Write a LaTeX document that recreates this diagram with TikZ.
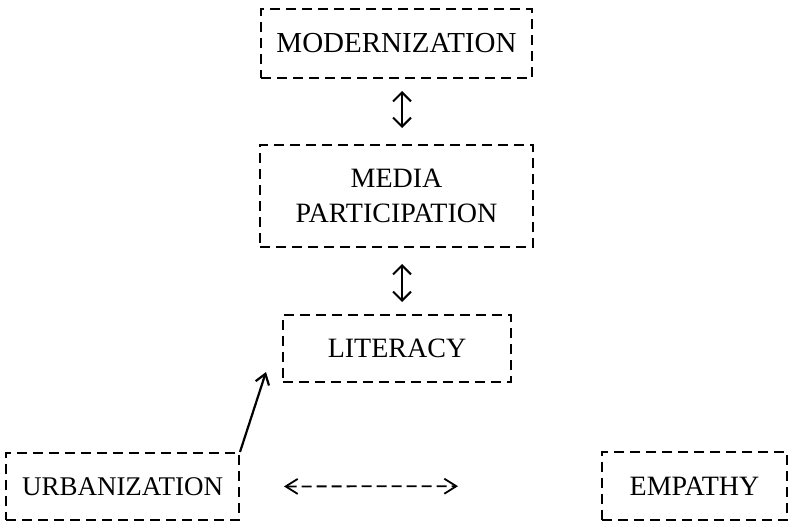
\documentclass[tikz,border=0pt]{standalone}
\usepackage{fontspec}
\setmainfont{Liberation Serif}
\usetikzlibrary{arrows.meta}
\begin{document}
\begin{tikzpicture}[x=1pt,y=-1pt,
  concept/.style={draw, dashed, dash pattern=on 10pt off 6pt, line width=2pt,
    inner sep=0pt, align=center, font=\fontsize{28}{35}\selectfont},
  link/.style={line width=2pt, {Straight Barb[length=9pt,width=18pt]}-{Straight Barb[length=9pt,width=18pt]}},
  cause/.style={line width=2.2pt, -{Straight Barb[length=10pt,width=14pt]}},
  assoc/.style={line width=1.8pt, dash pattern=on 10pt off 5pt,
    {Straight Barb[length=12pt,width=15pt]}-{Straight Barb[length=12pt,width=15pt]}}]
  \useasboundingbox (0,0) rectangle (788,522);

  % variables of the model
  \node[concept, font=\fontsize{29}{35}\selectfont, minimum width=271pt, minimum height=69pt] (mod) at (396.5,43.5) {MODERNIZATION};
  \node[concept, minimum width=273pt, minimum height=102pt] (media) at (396.5,196) {MEDIA\\PARTICIPATION};
  \node[concept, minimum width=228pt, minimum height=67pt] (lit) at (397,348.5) {LITERACY};
  \node[concept, font=\fontsize{27}{35}\selectfont, minimum width=233pt, minimum height=67pt] (urb) at (122.5,486.5) {URBANIZATION};
  \node[concept, minimum width=185pt, minimum height=68pt] (emp) at (694.5,486) {EMPATHY};

  % relations
  \draw[link, shorten <=12pt, shorten >=16pt] ([xshift=5.5pt]mod.south) -- ([xshift=5.5pt]media.north);
  \draw[link, shorten <=16pt, shorten >=12pt] ([xshift=5.5pt]media.south) -- ([xshift=5pt]lit.north);
  \draw[cause] (urb.north east) -- ([xshift=-16pt,yshift=11pt]lit.south west);
  \draw[assoc, shorten <=44pt, shorten >=143pt] (urb.east) -- (emp.west);
\end{tikzpicture}
\end{document}
